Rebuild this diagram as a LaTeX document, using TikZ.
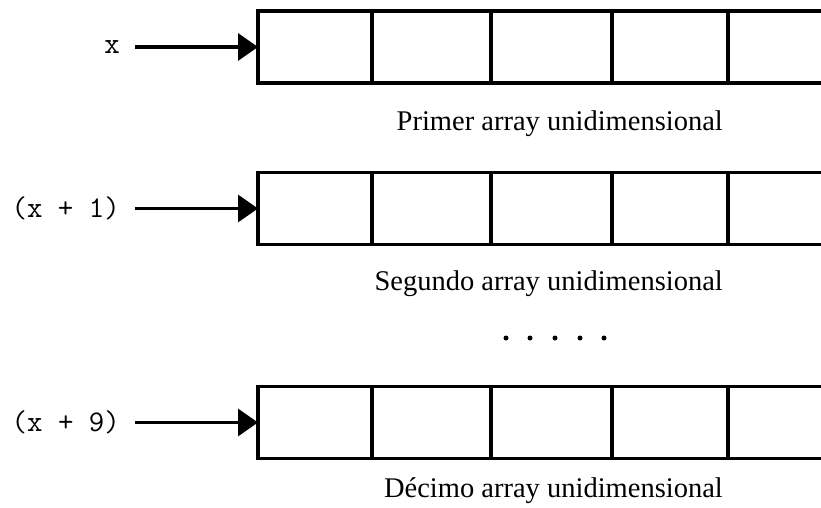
\documentclass[tikz,border=0pt]{standalone}
\usepackage{fontspec}
\setmainfont{Liberation Serif}
\usetikzlibrary{arrows.meta}
\begin{document}
\begin{tikzpicture}[x=1pt,y=-1pt,
  cell/.style={draw, line width=3.3pt, minimum height=72pt, inner sep=0pt, outer sep=0pt, anchor=west},
  edge/.style={line width=3.3pt},
  ptr/.style={line width=3.3pt, -{Triangle[length=20pt,width=27pt]}},
  lbl/.style={anchor=east, inner xsep=15pt, inner ysep=0pt, font=\ttfamily\fontsize{30}{34}\selectfont},
  captxt/.style={anchor=base east, inner sep=0pt, font=\fontsize{28.5}{32}\selectfont},
  dotmark/.style={circle, fill, inner sep=0pt, minimum size=5pt}]
\useasboundingbox (0,0) rectangle (821,508);
\foreach \r/\y/\t in {1/47/x, 2/208.5/(x + 1), 3/422.5/(x + 9)}{
  \node[cell, minimum width=114pt] (c\r1) at (258,\y) {};
  \node[cell, minimum width=119pt] (c\r2) at (372,\y) {};
  \node[cell, minimum width=121pt] (c\r3) at (491,\y) {};
  \node[cell, minimum width=116pt] (c\r4) at (612,\y) {};
  \draw[edge] (c\r4.north east) -- ++(100,0);
  \draw[edge] (c\r4.south east) -- ++(100,0);
  \node[lbl] (l\r) at (135,\y) {\t};
  \draw[ptr] (l\r.east) -- (c\r1.west);
}
\node[captxt] (t1) at (723,130) {Primer array unidimensional};
\node[captxt] (t2) at (723,290) {Segundo array unidimensional};
\node[captxt] (t3) at (723,497) {Décimo array unidimensional};
\foreach \i/\x in {1/506,2/530,3/555,4/580,5/604}{
  \node[dotmark] (d\i) at (\x,338) {};
}
\end{tikzpicture}
\end{document}
